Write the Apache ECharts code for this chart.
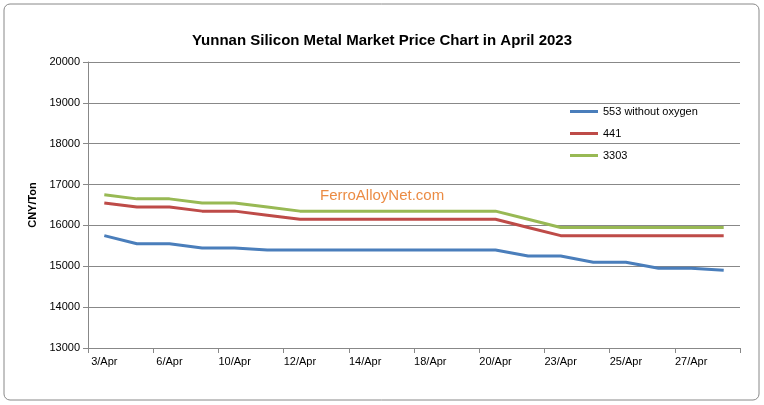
<!DOCTYPE html><html><head><meta charset="utf-8"><script src="https://cdn.jsdelivr.net/npm/echarts@6/dist/echarts.min.js"></script>
<style>body{margin:0}#c{width:764px;height:405px}</style></head><body><div id="c"></div><script>
const categories=['3/Apr','4/Apr','6/Apr','7/Apr','10/Apr','11/Apr','12/Apr','13/Apr','14/Apr','17/Apr','18/Apr','19/Apr','20/Apr','21/Apr','23/Apr','24/Apr','25/Apr','26/Apr','27/Apr','28/Apr'];
const s553=[15750,15550,15550,15450,15450,15400,15400,15400,15400,15400,15400,15400,15400,15250,15250,15100,15100,14950,14950,14900];
const s441=[16550,16450,16450,16350,16350,16250,16150,16150,16150,16150,16150,16150,16150,15950,15750,15750,15750,15750,15750,15750];
const s3303=[16750,16650,16650,16550,16550,16450,16350,16350,16350,16350,16350,16350,16350,16150,15950,15950,15950,15950,15950,15950];
const ch=echarts.init(document.getElementById('c'));
const ln=(n,d,c)=>({name:n,type:'line',data:d,symbol:'none',lineStyle:{color:c,width:3},itemStyle:{color:c}});
ch.setOption({
 animation:false,
 title:{text:'Yunnan Silicon Metal Market Price Chart in April 2023',left:'center',top:28,textStyle:{fontFamily:'Arial',fontSize:15,fontWeight:'bold',color:'#000'}},
 graphic:[{type:'rect',shape:{x:4,y:4,width:755,height:396,r:6},style:{fill:'none',stroke:'#888',lineWidth:1}},
  {type:'text',left:320,top:188,style:{text:'FerroAlloyNet.com',fill:'#e87722',font:'15px Arial',opacity:0.85}}],
 legend:{orient:'vertical',left:565,top:101,itemGap:11,itemWidth:28,itemHeight:3,icon:'rect',textStyle:{fontFamily:'Arial',fontSize:11,color:'#000'}},
 grid:{left:88,right:24,top:62,bottom:57},
 xAxis:{type:'category',data:categories,boundaryGap:true,axisLine:{lineStyle:{color:'#888'}},axisTick:{show:true,interval:1,lineStyle:{color:'#888'}},axisLabel:{interval:1,color:'#000',fontFamily:'Arial',fontSize:11}},
 yAxis:{type:'value',min:13000,max:20000,interval:1000,name:'CNY/Ton',nameLocation:'middle',nameGap:50,nameTextStyle:{fontFamily:'Arial',fontSize:11,fontWeight:'bold',color:'#000'},axisLine:{show:true,lineStyle:{color:'#888'}},axisTick:{show:true,lineStyle:{color:'#888'}},axisLabel:{color:'#000',fontFamily:'Arial',fontSize:11,formatter:v=>String(v)},splitLine:{lineStyle:{color:'#888'}}},
 series:[ln('553 without oxygen',s553,'#4a7ebb'),ln('441',s441,'#be4b48'),ln('3303',s3303,'#98b954')]
});
</script></body></html>
